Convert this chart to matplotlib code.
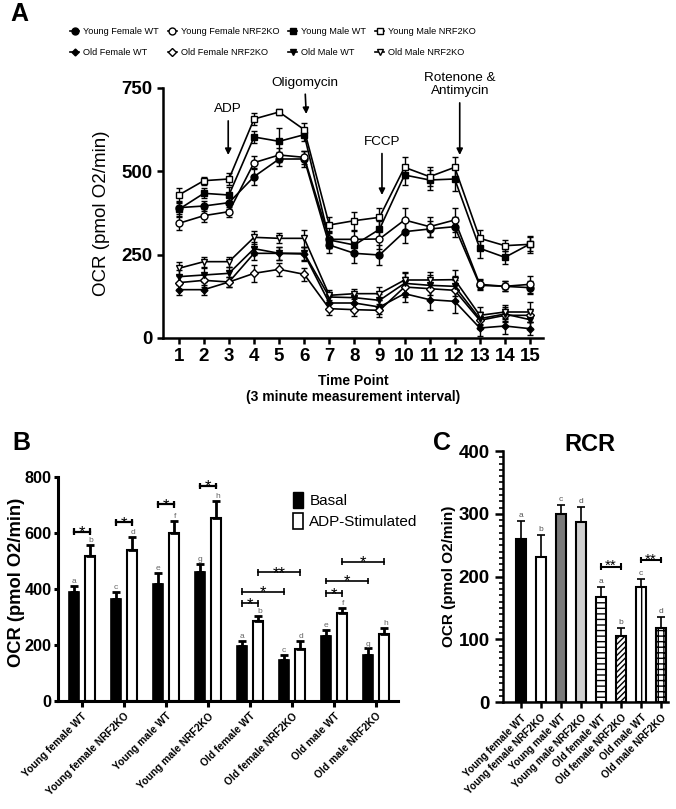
import numpy as np
import matplotlib
matplotlib.use('Agg')
import matplotlib.pyplot as plt
from matplotlib.patches import Patch
from matplotlib.lines import Line2D
from matplotlib.ticker import MultipleLocator

plt.rcParams['font.family'] = ['Liberation Sans', 'DejaVu Sans']
plt.rcParams['hatch.linewidth'] = 1.0

# ---------- panel A data (OCR over time) ----------
time_points = [1, 2, 3, 4, 5, 6, 7, 8, 9, 10, 11, 12, 13, 14, 15]
yf_wt = [391, 396, 406, 484, 537, 537, 279, 254, 249, 319, 327, 334, 158, 155, 151]
yf_ko = [344, 367, 379, 526, 549, 542, 296, 296, 297, 354, 334, 354, 161, 155, 161]
ym_wt = [386, 434, 429, 603, 590, 610, 294, 279, 326, 489, 474, 477, 269, 242, 282]
ym_ko = [429, 472, 477, 657, 678, 625, 339, 352, 362, 512, 484, 512, 299, 277, 281]
of_wt = [145, 145, 168, 254, 254, 252, 105, 105, 93, 133, 115, 110, 30, 36, 28]
of_ko = [166, 173, 168, 194, 206, 191, 88, 85, 83, 153, 148, 143, 53, 68, 68]
om_wt = [184, 189, 194, 268, 254, 254, 123, 121, 113, 164, 158, 155, 58, 72, 55]
om_ko = [209, 229, 229, 302, 299, 299, 128, 133, 133, 174, 174, 175, 68, 78, 78]
yf_wt_err = [20, 15, 20, 25, 20, 25, 25, 30, 30, 35, 25, 30, 15, 15, 20]
yf_ko_err = [20, 20, 15, 20, 20, 20, 25, 25, 30, 35, 30, 35, 15, 15, 25]
ym_wt_err = [20, 15, 25, 18, 40, 20, 25, 25, 25, 30, 30, 35, 30, 20, 20]
ym_ko_err = [20, 12, 17, 18, 10, 20, 25, 27, 29, 32, 28, 32, 25, 17, 25]
of_wt_err = [15, 15, 15, 20, 20, 20, 20, 20, 20, 25, 30, 35, 25, 25, 20]
of_ko_err = [20, 20, 15, 25, 20, 20, 20, 20, 20, 30, 30, 30, 25, 20, 20]
om_wt_err = [20, 20, 20, 20, 20, 20, 15, 15, 20, 30, 30, 30, 20, 20, 25]
om_ko_err = [20, 15, 15, 20, 15, 25, 15, 15, 20, 25, 25, 30, 25, 20, 30]

# ---------- panel B data ----------
groups = ['Young female WT', 'Young female NRF2KO', 'Young male WT', 'Young male NRF2KO',
          'Old female WT', 'Old female NRF2KO', 'Old male WT', 'Old male NRF2KO']
basal = [390, 365, 416, 458, 195, 145, 231, 165]
basal_err = [20, 25, 40, 32, 20, 18, 22, 22]
adp = [518, 538, 600, 651, 284, 183, 312, 238]
adp_err = [38, 48, 42, 63, 18, 30, 18, 23]
basal_letters = ['a', 'c', 'e', 'g', 'a', 'c', 'e', 'g']
adp_letters = ['b', 'd', 'f', 'h', 'b', 'd', 'f', 'h']
# (group1, bar1, group2, bar2, height, label) ; bar 0 = basal, 1 = ADP
b_brackets = [(0, 0, 0, 1, 604, '*'), (1, 0, 1, 1, 637, '*'), (2, 0, 2, 1, 701, '*'),
              (3, 0, 3, 1, 767, '*'), (4, 0, 4, 1, 348, '*'), (4, 0, 5, 0, 389, '*'),
              (4, 1, 5, 1, 458, '**'), (6, 0, 6, 1, 383, '*'), (6, 0, 7, 0, 428, '*'),
              (6, 1, 7, 1, 496, '*')]

# ---------- panel C data ----------
rcr = [260, 231, 299, 287, 167, 106, 184, 118]
rcr_err = [29, 36, 15, 24, 16, 13, 12, 18]
rcr_letters = ['a', 'b', 'c', 'd', 'a', 'b', 'c', 'd']
rcr_colors = ['black', 'white', '#7a7a7a', '#d0d0d0', 'white', 'white', 'white', 'white']
rcr_hatches = [None, None, None, None, '---', '//////', '|||', '+++']
c_brackets = [(4, 5, 216, '**'), (6, 7, 226, '**')]

fig = plt.figure(figsize=(6.76, 8.09), dpi=100)
W, H = 676, 809


def px_axes(l, t, r, b):
    return fig.add_axes([l / W, 1 - b / H, (r - l) / W, (b - t) / H])


def style_axes(ax, lw=1.8):
    for s in ['top', 'right']:
        ax.spines[s].set_visible(False)
    for s in ['left', 'bottom']:
        ax.spines[s].set_linewidth(lw)
    ax.tick_params(width=lw, length=4, direction='out')


# ===================== panel A =====================
axA = px_axes(163, 88, 543, 338)
style_axes(axA)
series = [
    ('Young Female WT', yf_wt, yf_wt_err, 'o', 'black', 5),
    ('Young Female NRF2KO', yf_ko, yf_ko_err, 'o', 'white', 5),
    ('Young Male WT', ym_wt, ym_wt_err, 's', 'black', 5),
    ('Young Male NRF2KO', ym_ko, ym_ko_err, 's', 'white', 5),
    ('Old Female WT', of_wt, of_wt_err, 'D', 'black', 3.5),
    ('Old Female NRF2KO', of_ko, of_ko_err, 'D', 'white', 4.5),
    ('Old Male WT', om_wt, om_wt_err, 'v', 'black', 5),
    ('Old Male NRF2KO', om_ko, om_ko_err, 'v', 'white', 5),
]
handles = {}
for name, vals, err, mk, fc, ms in series:
    axA.errorbar(time_points, vals, yerr=err, color='black', lw=1.2, marker=mk, ms=ms,
                 mfc=fc, mec='black', mew=1, elinewidth=1, capsize=2.5, capthick=1)
    handles[name] = Line2D([], [], color='black', lw=1.2, marker=mk, ms=ms, mfc=fc,
                           mec='black', mew=1)
axA.set_xlim(0.37, 15.52)
axA.set_ylim(0, 750)
axA.set_xticks(time_points)
axA.set_yticks([0, 250, 500, 750])
for lab in axA.get_xticklabels() + axA.get_yticklabels():
    lab.set_fontweight('bold')
    lab.set_fontsize(13.5)
axA.set_xlabel('Time Point\n(3 minute measurement interval)', fontsize=10,
               fontweight='bold', labelpad=6)
axA.set_ylabel('OCR (pmol O2/min)', fontsize=13.5, labelpad=8)

arrow = dict(arrowstyle='-|>', color='black', lw=1.2, mutation_scale=9, shrinkA=2, shrinkB=0)
axA.annotate('ADP', xy=(2.97, 549), xytext=(2.97, 668), ha='center', va='bottom',
             fontsize=9.7, arrowprops=arrow, annotation_clip=False)
axA.annotate('Oligomycin', xy=(6.08, 672), xytext=(6.02, 748), ha='center', va='bottom',
             fontsize=9.7, arrowprops=arrow, annotation_clip=False)
axA.annotate('FCCP', xy=(9.1, 429), xytext=(9.1, 570), ha='center', va='bottom',
             fontsize=9.7, arrowprops=arrow, annotation_clip=False)
axA.annotate('Rotenone &\nAntimycin', xy=(12.2, 549), xytext=(12.2, 722), ha='center',
             va='bottom', fontsize=9.7, linespacing=1.15, arrowprops=arrow,
             annotation_clip=False)

order = ['Young Female WT', 'Old Female WT', 'Young Female NRF2KO', 'Old Female NRF2KO',
         'Young Male WT', 'Old Male WT', 'Young Male NRF2KO', 'Old Male NRF2KO']
fig.legend([handles[n] for n in order], order, ncol=4, loc='upper left',
           bbox_to_anchor=(70 / W, 1 - 27 / H), frameon=False, fontsize=6.6,
           handlelength=1.0, handletextpad=0.4, columnspacing=1.0, labelspacing=1.3,
           borderpad=0, borderaxespad=0)

# ===================== panel B =====================
axB = px_axes(58, 476.7, 398, 700.7)
style_axes(axB, lw=2.2)
x = np.arange(len(groups))
off, bw = 0.19, 0.24
zeros = [0] * len(groups)
ekw = dict(lw=2, capthick=2, capsize=3, ecolor='black')
axB.bar(x - off, basal, bw, color='black', edgecolor='black', lw=1.2,
        yerr=[zeros, basal_err], error_kw=ekw, label='Basal')
axB.bar(x + off, adp, bw, color='white', edgecolor='black', lw=1.5,
        yerr=[zeros, adp_err], error_kw=ekw, label='ADP-Stimulated')
for i in range(len(groups)):
    axB.text(x[i] - off, basal[i] + basal_err[i] + 3, basal_letters[i], ha='center',
             va='bottom', fontsize=6, color='#666666')
    axB.text(x[i] + off + 0.03, adp[i] + adp_err[i] + 3, adp_letters[i], ha='center',
             va='bottom', fontsize=6, color='#666666')
for g1, b1, g2, b2, yb, lab in b_brackets:
    x1 = x[g1] + (off if b1 else -off)
    x2 = x[g2] + (off if b2 else -off)
    thick = 1.6 if g1 == g2 and g1 < 4 else 1.2
    axB.plot([x1, x2], [yb, yb], color='black', lw=thick)
    axB.vlines([x1, x2], yb - 12, yb + 12, color='black', lw=thick)
    axB.text((x1 + x2) / 2, yb - 4, lab, ha='center', va='center', fontsize=12)
axB.set_xlim(-0.57, 7.52)
axB.set_ylim(0, 800)
axB.set_yticks([0, 200, 400, 600, 800])
axB.tick_params(axis='y', length=3, pad=1.5)
axB.set_xticks(x)
axB.set_xticklabels(groups, rotation=45, ha='right', rotation_mode='anchor',
                    fontsize=7.4, fontweight='bold')
for lab in axB.get_yticklabels():
    lab.set_fontweight('bold')
    lab.set_fontsize(11.7)
axB.set_ylabel('OCR (pmol O2/min)', fontsize=13.2, fontweight='bold')
axB.yaxis.set_label_coords(-0.097, 0.53)
leg_handles = [Patch(facecolor='black', edgecolor='black'),
               Patch(facecolor='white', edgecolor='black', lw=1.2)]
axB.legend(leg_handles, ['Basal', 'ADP-Stimulated'], loc='upper left',
           bbox_to_anchor=(0.69, 0.93), frameon=False, fontsize=11, handlelength=0.7,
           handleheight=1.2, handletextpad=0.4, labelspacing=0.3, borderpad=0,
           borderaxespad=0)

# ===================== panel C =====================
axC = px_axes(503, 451, 668, 702.3)
style_axes(axC, lw=1.8)
xc = np.arange(len(groups))
bars = axC.bar(xc, rcr, 0.52, color=rcr_colors, edgecolor='black', lw=1.5,
               yerr=[zeros, rcr_err], error_kw=dict(lw=1.2, capthick=1.2, capsize=3,
                                                    ecolor='black'))
for b, h in zip(bars, rcr_hatches):
    if h:
        b.set_hatch(h)
for i in range(len(groups)):
    axC.text(xc[i], rcr[i] + rcr_err[i] + 3, rcr_letters[i], ha='center', va='bottom',
             fontsize=6, color='#555555')
for g1, g2, yb, lab in c_brackets:
    axC.plot([xc[g1], xc[g2]], [yb, yb], color='black', lw=1.5)
    axC.vlines([xc[g1], xc[g2]], yb - 5, yb + 5, color='black', lw=1.5)
    axC.text((xc[g1] + xc[g2]) / 2, yb + 1, lab, ha='center', va='center', fontsize=11)
axC.set_xlim(-0.9, 7.35)
axC.set_ylim(0, 400)
axC.set_yticks([0, 100, 200, 300, 400])
axC.yaxis.set_minor_locator(MultipleLocator(10))
axC.tick_params(axis='y', which='minor', length=3, width=1.2)
axC.tick_params(axis='y', which='major', length=6)
axC.set_xticks(xc)
axC.set_xticklabels(groups, rotation=45, ha='right', rotation_mode='anchor',
                    fontsize=7.2, fontweight='bold')
for lab in axC.get_yticklabels():
    lab.set_fontweight('bold')
    lab.set_fontsize(13.5)
axC.set_ylabel('OCR (pmol O2/min)', fontsize=11, fontweight='bold', labelpad=2)
axC.text(0.527, 1.024, 'RCR', transform=axC.transAxes, ha='center', va='center',
         fontsize=17, fontweight='bold')

# panel letters
for letter, px, py in [('A', 10, 14), ('B', 12, 443), ('C', 433, 443)]:
    fig.text(px / W, 1 - py / H, letter, fontsize=18, fontweight='bold', ha='left',
             va='center')

fig.savefig('out.png', dpi=100)
